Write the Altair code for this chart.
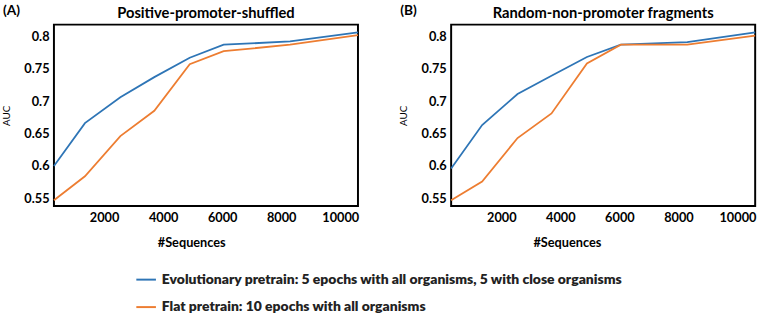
import altair as alt
import pandas as pd

sequences = [300, 1350, 2550, 3700, 4900, 6050, 8300, 10600]
a_evo = [0.600, 0.666, 0.706, 0.737, 0.767, 0.787, 0.792, 0.806]
a_flat = [0.547, 0.584, 0.646, 0.685, 0.757, 0.777, 0.787, 0.802]
b_evo = [0.596, 0.663, 0.711, 0.739, 0.768, 0.787, 0.791, 0.806]
b_flat = [0.547, 0.576, 0.643, 0.681, 0.758, 0.787, 0.787, 0.801]

series = [
    "Evolutionary pretrain: 5 epochs with all organisms, 5 with close organisms",
    "Flat pretrain: 10 epochs with all organisms",
]
colors = ["#2e75b6", "#ed7d31"]
titles = ["Positive-promoter-shuffled", "Random-non-promoter fragments"]
tags = ["(A)", "(B)"]
x_ticks = [2000, 4000, 6000, 8000, 10000]
y_ticks = [0.55, 0.6, 0.65, 0.7, 0.75, 0.8]

FONT = "Lato"


def make_df(evo, flat):
    rows = []
    for s, v in zip(sequences, evo):
        rows.append({"Sequences": s, "AUC": v, "Series": series[0]})
    for s, v in zip(sequences, flat):
        rows.append({"Sequences": s, "AUC": v, "Series": series[1]})
    return pd.DataFrame(rows)


def panel(df, title, tag, title_x):
    lines = alt.Chart(df).mark_line(strokeWidth=1.8).encode(
        x=alt.X(
            "Sequences:Q",
            scale=alt.Scale(domain=[300, 10600], nice=False, zero=False),
            axis=alt.Axis(
                values=x_ticks, format="d", title="#Sequences", grid=False,
                domain=False, ticks=False, labelFontSize=13,
                labelFontWeight="bold", labelFont=FONT, labelColor="#000",
                labelPadding=6, titleFont=FONT, titleFontSize=13,
                titleFontWeight="bold", titleColor="#000", titlePadding=12,
                titleX=title_x,
            ),
        ),
        y=alt.Y(
            "AUC:Q",
            scale=alt.Scale(domain=[0.538, 0.818], nice=False, zero=False),
            axis=alt.Axis(
                values=y_ticks, format="~g", title="AUC", grid=False,
                domain=False, ticks=False, labelFontSize=13,
                labelFontWeight="bold", labelFont=FONT, labelColor="#000",
                labelPadding=5, titleFont=FONT, titleFontSize=10,
                titleFontWeight="normal", titleColor="#000", titlePadding=13,
            ),
        ),
        color=alt.Color(
            "Series:N",
            scale=alt.Scale(domain=series, range=colors),
            legend=alt.Legend(
                title=None, orient="none", legendX=83, legendY=249,
                direction="vertical", symbolType="stroke",
                symbolStrokeWidth=2, symbolSize=400, labelFontSize=14.2,
                labelFontWeight=800, labelFont=FONT, labelColor="#222",
                labelLimit=0, rowPadding=9, labelOffset=5,
            ),
        ),
    )
    tag_chart = alt.Chart(pd.DataFrame({"tag": [tag]})).mark_text(
        font=FONT, fontSize=14, fontWeight="bold", align="left",
        baseline="middle", color="#000"
    ).encode(text="tag:N", x=alt.value(-52), y=alt.value(-14))
    title_chart = alt.Chart(pd.DataFrame({"title": [title]})).mark_text(
        font=FONT, fontSize=15, fontWeight="bold", align="center",
        baseline="middle", color="#000"
    ).encode(text="title:N", x=alt.value(155), y=alt.value(-12))
    return alt.layer(lines, tag_chart, title_chart).properties(
        width=310, height=185,
    )


pa = panel(make_df(a_evo, a_flat), titles[0], tags[0], 140)
pb = panel(make_df(b_evo, b_flat), titles[1], tags[1], 118)

chart = alt.hconcat(pa, pb, spacing=35).properties(
    padding={"left": 0, "right": 4, "top": 0, "bottom": 0}
).configure_view(stroke="#000", strokeWidth=2).resolve_scale(color="shared")

chart.save("out.html", embed_options={"renderer": "svg", "actions": False})
